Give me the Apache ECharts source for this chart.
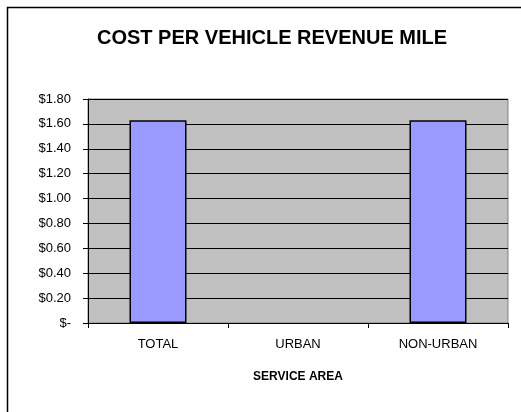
<!DOCTYPE html>
<html>
<head>
<meta charset="utf-8">
<script src="https://cdn.jsdelivr.net/npm/echarts@6/dist/echarts.min.js"></script>
<style>
html, body { margin: 0; padding: 0; background: #fff; }
#chart { width: 521px; height: 412px; }
</style>
</head>
<body>
<div id="chart"></div>
<script>
const categories = ['TOTAL', 'URBAN', 'NON-URBAN']
const costPerMile = [1.63, null, 1.63]
const yMin = 0
const yMax = 1.8
const yStep = 0.2

const chart = echarts.init(document.getElementById('chart'))

const option = {
    backgroundColor: '#fff',
    textStyle: { fontFamily: 'Liberation Sans, Arial, sans-serif' },
    title: {
        text: 'COST PER VEHICLE REVENUE MILE',
        left: 92,
        top: 23,
        textStyle: { fontSize: 20, fontWeight: 'bold', color: '#000', fontFamily: 'Liberation Sans, Arial, sans-serif' }
    },
    // outer chart frame
    graphic: [{
        type: 'rect',
        shape: { x: 7.5, y: 7.5, width: 600, height: 500 },
        style: { fill: null, stroke: '#000', lineWidth: 1.5 },
        silent: true
    }],
    grid: {
        left: 88, right: 13, top: 99, bottom: 89,
        show: true,
        backgroundColor: '#C0C0C0',
        borderColor: '#808080',
        borderWidth: 1
    },
    xAxis: {
        type: 'category',
        data: categories,
        name: 'SERVICE AREA',
        nameLocation: 'middle',
        nameGap: 48,
        nameTextStyle: { fontSize: 12, fontWeight: 'bold', color: '#000' },
        axisLine: { lineStyle: { color: '#000', width: 1 } },
        axisTick: { show: true, length: 5, lineStyle: { color: '#000' } },
        axisLabel: { color: '#000', fontSize: 13, margin: 15 }
    },
    yAxis: {
        type: 'value',
        min: yMin,
        max: yMax,
        interval: yStep,
        axisLine: { show: true, lineStyle: { color: '#000', width: 1 } },
        axisTick: { show: true, length: 5, lineStyle: { color: '#000' } },
        splitLine: { lineStyle: { color: '#000', width: 1 } },
        axisLabel: {
            color: '#000',
            fontSize: 13,
            margin: 17,
            formatter: v => v === 0 ? '$-' : '$' + v.toFixed(2)
        }
    },
    series: [{
        type: 'bar',
        data: costPerMile,
        barWidth: 57,
        itemStyle: { color: '#9999FF', borderColor: '#000', borderWidth: 1.5 }
    }]
}
chart.setOption(option)
</script>
</body>
</html>
